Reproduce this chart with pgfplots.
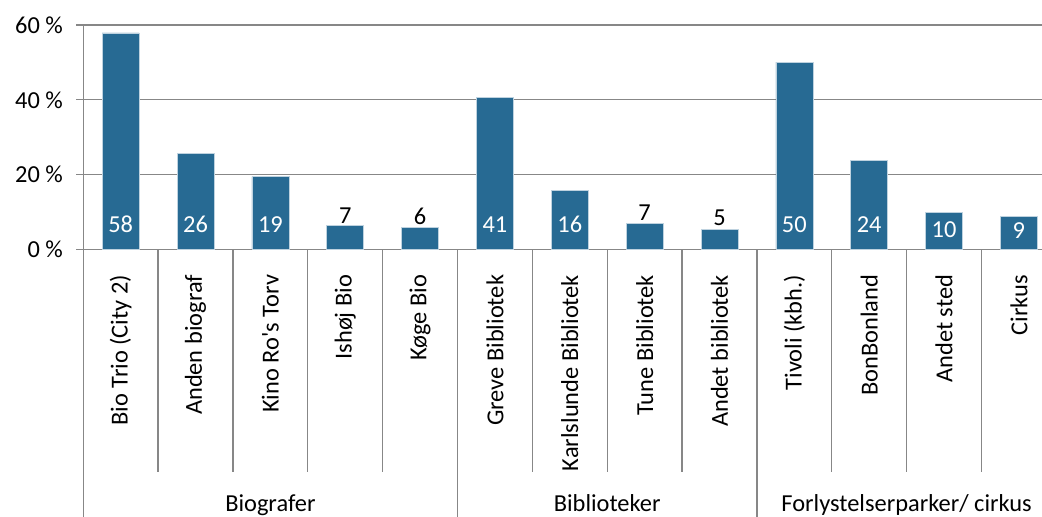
\documentclass[border=0pt]{standalone}
\usepackage{fontspec}
\setmainfont{Carlito}
\usepackage{pgfplots}
\pgfplotsset{compat=1.18}
\definecolor{barblue}{HTML}{276A93}
\definecolor{axgray}{HTML}{878787}

\pgfplotstableread{
x y
0 57.9
1 25.6
2 19.5
3 6.5
4 5.9
5 40.7
6 15.9
7 7.0
8 5.4
9 50.1
10 23.9
11 10.0
12 8.8
}\bardata

\pgfplotstableread{
x y lab
0 6.68 58
1 6.68 26
2 6.68 19
5 6.68 41
6 6.68 16
9 6.68 50
10 6.68 24
11 5.34 10
12 5.08 9
}\whitelabels

\pgfplotstableread{
x y lab
3 9.09 7
4 8.74 6
7 9.89 7
8 8.42 5
}\blacklabels

\begin{document}
\begin{tikzpicture}[font=\fontsize{12.2}{14.6}\selectfont]
\begin{axis}[
  scale only axis, width=486.5pt, height=112.25pt,
  xmin=-0.5, xmax=12.5, ymin=0, ymax=60,
  clip=false,
  axis line style={draw=none},
  ytick={0,20,40,60}, yticklabels={0 \%,20 \%,40 \%,60 \%},
  ymajorgrids, grid style={axgray, line width=0.65pt},
  ytick pos=left, tick align=outside, major tick length=3.5pt,
  ytick style={axgray, line width=0.65pt},
  xtick={0,...,12}, xtick style={draw=none}, xtick pos=bottom,
  xticklabels={Bio Trio (City 2), Anden biograf, Kino Ro\textquotesingle s Torv, Ishøj Bio, Køge Bio, Greve Bibliotek, Karlslunde Bibliotek, Tune Bibliotek, Andet bibliotek, Tivoli (kbh.), BonBonland, Andet sted, Cirkus},
  xticklabel style={rotate=90, anchor=east, inner sep=0pt},
  yticklabel style={anchor=east, inner sep=0pt},
  xticklabel shift=9pt,
  yticklabel shift=6.5pt,
]
\addplot[ybar, bar width=18.5pt, fill=barblue, draw=barblue!30!white, line width=0.3pt] table[x=x, y=y] {\bardata};
\addplot[only marks, mark=*, mark size=0pt, nodes near coords, point meta=explicit symbolic,
  every node near coord/.append style={anchor=center, text=white, inner sep=0pt}]
  table[x=x, y=y, meta=lab] {\whitelabels};
\addplot[only marks, mark=*, mark size=0pt, nodes near coords, point meta=explicit symbolic,
  every node near coord/.append style={anchor=center, text=black, inner sep=0pt}]
  table[x=x, y=y, meta=lab] {\blacklabels};
\pgfplotsinvokeforeach{0.5,1.5,2.5,3.5,5.5,6.5,7.5,9.5,10.5,11.5}{
  \draw[axgray, line width=0.65pt] (axis cs:#1,0) -- ++(0pt,-111.25pt);
}
\pgfplotsinvokeforeach{4.5,8.5,12.5}{
  \draw[axgray, line width=0.65pt] (axis cs:#1,0) -- ++(0pt,-133.75pt);
}
\draw[axgray, line width=0.65pt] (axis cs:-0.5,60) -- (axis cs:-0.5,0) -- ++(0pt,-133.75pt);
\node[anchor=base, yshift=-131pt] at (axis cs:2,0) {Biografer};
\node[anchor=base, yshift=-131pt] at (axis cs:6.5,0) {Biblioteker};
\node[anchor=base, yshift=-131pt] at (axis cs:10.5,0) {Forlystelserparker/ cirkus};
\end{axis}
\pgfresetboundingbox
\useasboundingbox (-41.65pt,-133.75pt) rectangle (479.35pt,124.75pt);
\end{tikzpicture}
\end{document}
